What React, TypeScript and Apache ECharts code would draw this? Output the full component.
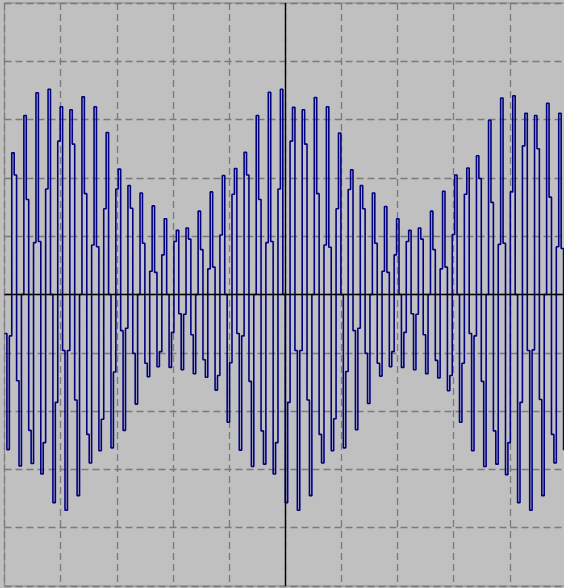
import React, { useEffect, useRef } from "react";
import * as echarts from "echarts";

const signal: number[] = [
  -0.67, -2.66, -0.71, 2.43, 2.05, -1.48, -2.94, 0, 3.07, 1.63, -2.33, -2.9, 0.89, 3.46, 0.91, -3.08, -2.54, 1.81, 3.52, 0, -3.57, -1.85, 2.63, 3.22,
  -0.96, -3.7, -0.96, 3.17, 2.58, -1.81, -3.45, 0, 3.39, 1.73, -2.4, -2.89, 0.85, 3.22, 0.82, -2.68, -2.14, 1.47, 2.78, 0, -2.63, -1.33, 1.81, 2.15,
  -0.62, -2.33, -0.58, 1.87, 1.48, -1.01, -1.88, 0, 1.74, 0.88, -1.18, -1.41, 0.4, 1.52, 0.38, -1.24, -0.98, 0.68, 1.3, 0, -1.25, -0.65, 0.91, 1.1,
  -0.33, -1.29, -0.34, 1.14, 0.95, -0.69, -1.36, 0, 1.43, 0.77, -1.12, -1.42, 0.44, 1.76, 0.47, -1.64, -1.39, 1.02, 2.04, 0, -2.19, -1.17, 1.72, 2.16,
  -0.67, -2.67, -0.71, 2.44, 2.05, -1.49, -2.95, 0, 3.07, 1.63, -2.34, -2.91, 0.89, 3.47, 0.91, -3.08, -2.54, 1.81, 3.52, 0, -3.57, -1.85, 2.63, 3.21,
  -0.96, -3.7, -0.96, 3.17, 2.58, -1.81, -3.45, 0, 3.38, 1.73, -2.4, -2.89, 0.85, 3.22, 0.81, -2.68, -2.13, 1.47, 2.77, 0, -2.63, -1.32, 1.8, 2.14,
  -0.62, -2.32, -0.58, 1.87, 1.47, -1.01, -1.87, 0, 1.74, 0.88, -1.18, -1.4, 0.4, 1.51, 0.38, -1.24, -0.98, 0.68, 1.3, 0, -1.25, -0.65, 0.91, 1.1,
  -0.33, -1.29, -0.34, 1.14, 0.95, -0.69, -1.36, 0, 1.43, 0.77, -1.13, -1.43, 0.44, 1.77, 0.47, -1.65, -1.39, 1.03, 2.05, 0, -2.19, -1.18, 1.72, 2.17,
  -0.67, -2.68, -0.71, 2.38, 1.99, -1.49, -2.95, 0, 2.99, 1.58, -2.34, -2.91, 0.86, 3.37, 0.88, -3.09, -2.54, 1.76, 3.41, 0, -3.57, -1.85, 2.55, 3.11,
  -0.96, -3.7, -0.95, 3.07, 2.5, -1.8, -3.45, 0, 3.28, 1.67, -2.4, -2.89, 0.82, 3.11, 0.79, -2.67,
];

// Screen layout: 10 x 10 divisions, vertical range -5..5
const xDivisions = 10;
const yMin = -5;
const yMax = 5;
const yStep = 1;

export default function App() {
  const ref = useRef<HTMLDivElement>(null);

  useEffect(() => {
    if (!ref.current) return;
    const chart = echarts.init(ref.current, null, { renderer: "svg" });
    const samples = signal.length;
    const dashed = {
      show: true,
      lineStyle: { color: "#7a7a7a", type: [7, 4] as number[], width: 1.3 },
    };
    chart.setOption({
      animation: false,
      backgroundColor: "#c0c0c0",
      grid: {
        left: 4.5,
        top: 3,
        right: 2,
        bottom: 2,
        show: true,
        borderColor: "#8a8a8a",
        borderWidth: 1.2,
        backgroundColor: "transparent",
      },
      xAxis: {
        type: "value",
        min: 0,
        max: samples,
        interval: samples / xDivisions,
        axisLine: { show: false },
        axisTick: { show: false },
        axisLabel: { show: false },
        splitLine: dashed,
      },
      yAxis: {
        type: "value",
        min: yMin,
        max: yMax,
        interval: yStep,
        axisLine: { show: false },
        axisTick: { show: false },
        axisLabel: { show: false },
        splitLine: dashed,
      },
      series: [
        {
          type: "line",
          step: "end",
          data: signal.map((v, i) => [i, v]),
          symbol: "none",
          showSymbol: false,
          lineStyle: { color: "#000080", width: 1.6 },
          markLine: {
            silent: true,
            symbol: ["none", "none"],
            label: { show: false },
            lineStyle: { color: "#000000", type: "solid", width: 1.4 },
            data: [{ xAxis: samples / 2 }, { yAxis: 0 }],
          },
        },
      ],
    });
    return () => chart.dispose();
  }, []);

  return (
    <div
      style={{
        position: "fixed",
        left: 0,
        top: 0,
        width: 564,
        height: 588,
        overflow: "hidden",
        background: "#c0c0c0",
      }}
    >
      <div ref={ref} style={{ width: 568, height: 588 }} />
    </div>
  );
}
